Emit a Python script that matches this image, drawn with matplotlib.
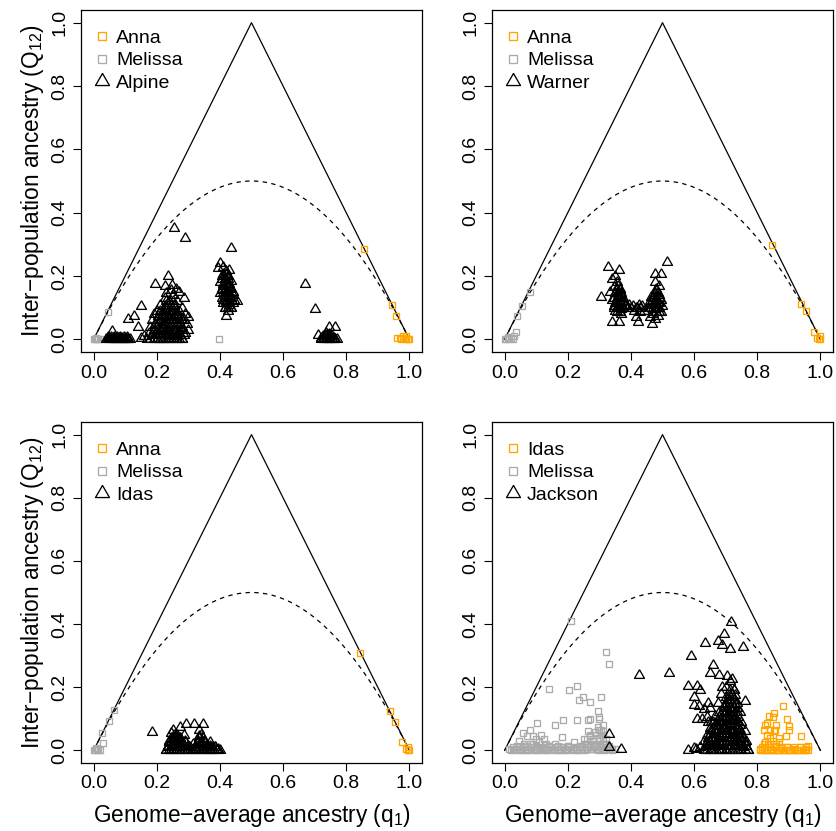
import numpy as np
import matplotlib
matplotlib.use("Agg")
import matplotlib.pyplot as plt

plt.rcParams['font.family'] = ['Liberation Sans', 'DejaVu Sans']
plt.rcParams['mathtext.default'] = 'regular'

orange = '#FFA500'
grey = '#AAAAAA'

# ---- panel 1: Anna / Melissa / Alpine ----
p1_anna_q = [0.856, 0.945, 0.959, 0.96, 0.975, 0.98, 0.985, 0.99, 0.995, 1.0, 0.99, 0.97]
p1_anna_Q = [0.284, 0.107, 0.075, 0.005, 0.0, 0.01, 0.005, 0.0, 0.002, 0.0, 0.012, 0.005]
p1_mel_q = [0.0, 0.005, 0.01, 0.015, 0.02, 0.008, 0.046, 0.396]
p1_mel_Q = [0.0, 0.0, 0.002, 0.0, 0.0, 0.005, 0.086, 0.0]
p1_hyb_q = [0.045, 0.05, 0.055, 0.06, 0.065, 0.07, 0.075, 0.08, 0.085, 0.09, 0.095, 0.10, 0.105, 0.11, 0.059,
            0.15, 0.127, 0.11, 0.142, 0.194, 0.236, 0.226, 0.249, 0.254, 0.288,
            0.15, 0.16, 0.17, 0.175, 0.18, 0.185, 0.19, 0.19, 0.195, 0.2, 0.2, 0.205, 0.21, 0.21, 0.215,
            0.22, 0.22, 0.225, 0.225, 0.23, 0.23, 0.235, 0.24, 0.24, 0.245, 0.245, 0.25, 0.25, 0.255, 0.255,
            0.26, 0.26, 0.265, 0.265, 0.27, 0.27, 0.275, 0.28, 0.28, 0.285, 0.29, 0.29, 0.295, 0.30, 0.30,
            0.285, 0.27, 0.245, 0.23, 0.26, 0.21, 0.235, 0.265, 0.28, 0.25,
            0.436, 0.40, 0.395, 0.41, 0.42, 0.43, 0.405, 0.415, 0.425, 0.435, 0.40, 0.41, 0.42, 0.43, 0.44,
            0.405, 0.415, 0.425, 0.435, 0.445, 0.455, 0.42, 0.43, 0.41, 0.415, 0.425, 0.435, 0.42, 0.44, 0.40,
            0.669, 0.702, 0.744, 0.766, 0.71, 0.72, 0.725, 0.73, 0.735, 0.74, 0.745, 0.75, 0.755, 0.76, 0.765,
            0.735, 0.745]
p1_hyb_Q = [0.0, 0.003, 0.0, 0.005, 0.0, 0.002, 0.0, 0.004, 0.0, 0.003, 0.0, 0.002, 0.0, 0.0, 0.025,
            0.105, 0.075, 0.065, 0.04, 0.174, 0.20, 0.17, 0.172, 0.353, 0.32,
            0.005, 0.01, 0.0, 0.02, 0.04, 0.06, 0.08, 0.03, 0.05, 0.0, 0.09, 0.02, 0.06, 0.11, 0.04,
            0.08, 0.0, 0.13, 0.05, 0.10, 0.02, 0.07, 0.12, 0.04, 0.09, 0.0, 0.06, 0.14, 0.11, 0.03,
            0.08, 0.01, 0.12, 0.05, 0.09, 0.02, 0.07, 0.10, 0.04, 0.06, 0.08, 0.02, 0.05, 0.07, 0.03,
            0.13, 0.15, 0.155, 0.145, 0.16, 0.0, 0.0, 0.0, 0.0, 0.02,
            0.287, 0.24, 0.225, 0.23, 0.215, 0.22, 0.20, 0.19, 0.20, 0.185, 0.18, 0.17, 0.16, 0.165, 0.15,
            0.155, 0.14, 0.135, 0.13, 0.125, 0.12, 0.12, 0.11, 0.125, 0.10, 0.09, 0.10, 0.075, 0.14, 0.145,
            0.176, 0.095, 0.04, 0.04, 0.013, 0.005, 0.0, 0.01, 0.0, 0.005, 0.0, 0.01, 0.0, 0.005, 0.0,
            0.02, 0.018]
# dense cores of the Alpine clusters
p1_core_q = [0.04, 0.05, 0.06, 0.07, 0.08, 0.09, 0.10, 0.11, 0.115,
             0.045, 0.055, 0.065, 0.075, 0.085, 0.095, 0.105,
             0.18, 0.19, 0.20, 0.21, 0.22, 0.23, 0.24, 0.25, 0.26, 0.27, 0.28,
             0.185, 0.195, 0.205, 0.215, 0.225, 0.235, 0.245, 0.255, 0.265, 0.275, 0.285,
             0.19, 0.20, 0.21, 0.22, 0.23, 0.24, 0.25, 0.26, 0.27, 0.28,
             0.195, 0.205, 0.215, 0.225, 0.235, 0.245, 0.255, 0.265, 0.275,
             0.20, 0.21, 0.22, 0.23, 0.24, 0.25, 0.26, 0.27, 0.28,
             0.205, 0.215, 0.225, 0.235, 0.245, 0.255, 0.265,
             0.21, 0.22, 0.23, 0.24, 0.25, 0.26,
             0.225, 0.235, 0.245, 0.255,
             0.23, 0.24, 0.25,
             0.415, 0.425, 0.435, 0.41, 0.42, 0.43, 0.44, 0.405, 0.415, 0.425, 0.435,
             0.41, 0.42, 0.43, 0.405, 0.415, 0.425, 0.435, 0.41, 0.42, 0.43,
             0.405, 0.415, 0.425, 0.41, 0.42,
             0.72, 0.73, 0.74, 0.75, 0.76, 0.77, 0.725, 0.735, 0.745, 0.755]
p1_core_Q = [0.0, 0.0, 0.0, 0.0, 0.0, 0.0, 0.0, 0.0, 0.0,
             0.008, 0.008, 0.008, 0.008, 0.008, 0.008, 0.008,
             0.0, 0.0, 0.0, 0.0, 0.0, 0.0, 0.0, 0.0, 0.0, 0.0, 0.0,
             0.015, 0.015, 0.015, 0.015, 0.015, 0.015, 0.015, 0.015, 0.015, 0.015, 0.015,
             0.03, 0.03, 0.03, 0.03, 0.03, 0.03, 0.03, 0.03, 0.03, 0.03,
             0.045, 0.045, 0.045, 0.045, 0.045, 0.045, 0.045, 0.045, 0.045,
             0.06, 0.06, 0.06, 0.06, 0.06, 0.06, 0.06, 0.06, 0.06,
             0.075, 0.075, 0.075, 0.075, 0.075, 0.075, 0.075,
             0.09, 0.09, 0.09, 0.09, 0.09, 0.09,
             0.105, 0.105, 0.105, 0.105,
             0.12, 0.12, 0.12,
             0.10, 0.10, 0.10, 0.115, 0.115, 0.115, 0.115, 0.13, 0.13, 0.13, 0.13,
             0.145, 0.145, 0.145, 0.16, 0.16, 0.16, 0.16, 0.175, 0.175, 0.175,
             0.19, 0.19, 0.19, 0.205, 0.205,
             0.0, 0.0, 0.0, 0.0, 0.0, 0.0, 0.01, 0.01, 0.01, 0.01]

# ---- panel 2: Anna / Melissa / Warner ----
p2_anna_q = [0.848, 0.94, 0.955, 0.979, 0.99, 0.995, 1.0, 0.998]
p2_anna_Q = [0.298, 0.113, 0.088, 0.022, 0.005, 0.0, 0.0, 0.01]
p2_mel_q = [0.079, 0.056, 0.039, 0.035, 0.03, 0.0, 0.005, 0.01, 0.015, 0.02, 0.025, 0.012]
p2_mel_Q = [0.15, 0.106, 0.073, 0.023, 0.012, 0.0, 0.0, 0.003, 0.0, 0.005, 0.0, 0.008]
p2_hyb_q = [0.328, 0.361, 0.513, 0.304, 0.475, 0.494, 0.475, 0.49, 0.474, 0.339, 0.361, 0.422, 0.467, 0.37,
            0.34, 0.35, 0.355, 0.345, 0.36, 0.365, 0.335, 0.35, 0.36, 0.37, 0.34, 0.355, 0.365, 0.375,
            0.345, 0.36, 0.37, 0.38, 0.35, 0.365,
            0.385, 0.395, 0.405, 0.415, 0.425, 0.435, 0.41, 0.43, 0.415, 0.44,
            0.455, 0.46, 0.465, 0.47, 0.475, 0.48, 0.485, 0.49, 0.495, 0.485, 0.47, 0.48, 0.49, 0.50,
            0.46, 0.475, 0.495]
p2_hyb_Q = [0.23, 0.219, 0.244, 0.134, 0.205, 0.205, 0.18, 0.17, 0.14, 0.055, 0.055, 0.055, 0.05, 0.08,
            0.19, 0.20, 0.18, 0.165, 0.17, 0.155, 0.15, 0.145, 0.135, 0.14, 0.125, 0.12, 0.115, 0.12,
            0.105, 0.10, 0.095, 0.105, 0.09, 0.085,
            0.11, 0.11, 0.105, 0.10, 0.11, 0.105, 0.09, 0.085, 0.07, 0.09,
            0.10, 0.12, 0.135, 0.11, 0.095, 0.125, 0.10, 0.115, 0.085, 0.075, 0.08, 0.155, 0.14, 0.105,
            0.07, 0.065, 0.125]
p2_core_q = [0.345, 0.355, 0.365, 0.375, 0.46, 0.47, 0.48, 0.49,
             0.35, 0.36, 0.37, 0.465, 0.475, 0.485,
             0.345, 0.355, 0.365, 0.375, 0.47, 0.48, 0.49,
             0.35, 0.36, 0.37, 0.475, 0.485,
             0.355, 0.365, 0.48,
             0.355, 0.365, 0.47, 0.48, 0.49,
             0.39, 0.40, 0.42, 0.43]
p2_core_Q = [0.10, 0.10, 0.10, 0.10, 0.10, 0.10, 0.10, 0.10,
             0.115, 0.115, 0.115, 0.115, 0.115, 0.115,
             0.13, 0.13, 0.13, 0.13, 0.13, 0.13, 0.13,
             0.145, 0.145, 0.145, 0.145, 0.145,
             0.16, 0.16, 0.16,
             0.085, 0.085, 0.085, 0.085, 0.085,
             0.10, 0.10, 0.10, 0.10]

# ---- panel 3: Anna / Melissa / Idas ----
p3_anna_q = [0.843, 0.938, 0.955, 0.978, 0.99, 0.995, 1.0, 0.997]
p3_anna_Q = [0.308, 0.125, 0.09, 0.025, 0.005, 0.0, 0.0, 0.01]
p3_mel_q = [0.064, 0.048, 0.028, 0.03, 0.0, 0.005, 0.01, 0.015, 0.02, 0.008]
p3_mel_Q = [0.129, 0.093, 0.055, 0.023, 0.0, 0.0, 0.004, 0.0, 0.002, 0.008]
p3_hyb_q = [0.185, 0.294, 0.319, 0.345, 0.275, 0.25, 0.287, 0.333,
            0.23, 0.235, 0.24, 0.245, 0.25, 0.255, 0.26, 0.26, 0.265, 0.27, 0.275, 0.28, 0.28, 0.29,
            0.295, 0.30, 0.31, 0.315, 0.32, 0.325, 0.33, 0.335, 0.34, 0.345, 0.35, 0.355, 0.36, 0.37,
            0.375, 0.385, 0.39, 0.395, 0.365, 0.245]
p3_hyb_Q = [0.058, 0.085, 0.085, 0.083, 0.075, 0.065, 0.05, 0.065,
            0.0, 0.015, 0.03, 0.0, 0.04, 0.02, 0.0, 0.05, 0.03, 0.01, 0.04, 0.0, 0.02, 0.03,
            0.0, 0.015, 0.0, 0.02, 0.005, 0.0, 0.03, 0.045, 0.02, 0.005, 0.03, 0.0, 0.01, 0.015,
            0.0, 0.01, 0.0, 0.003, 0.0, 0.055]
p3_core_q = [0.23, 0.24, 0.25, 0.26, 0.27, 0.28, 0.29, 0.30, 0.31, 0.32, 0.33, 0.34, 0.35, 0.36, 0.37,
             0.38, 0.39, 0.40,
             0.235, 0.245, 0.255, 0.265, 0.275, 0.285, 0.295, 0.305, 0.325, 0.335, 0.345, 0.355, 0.365,
             0.375, 0.385,
             0.24, 0.25, 0.26, 0.27, 0.28, 0.29, 0.33, 0.34, 0.35, 0.37,
             0.245, 0.255, 0.265, 0.275, 0.335, 0.345,
             0.255, 0.265, 0.34]
p3_core_Q = [0.0, 0.0, 0.0, 0.0, 0.0, 0.0, 0.0, 0.0, 0.0, 0.0, 0.0, 0.0, 0.0, 0.0, 0.0,
             0.0, 0.0, 0.0,
             0.012, 0.012, 0.012, 0.012, 0.012, 0.012, 0.012, 0.012, 0.012, 0.012, 0.012, 0.012, 0.012,
             0.012, 0.012,
             0.025, 0.025, 0.025, 0.025, 0.025, 0.025, 0.025, 0.025, 0.025, 0.025,
             0.038, 0.038, 0.038, 0.038, 0.038, 0.038,
             0.05, 0.05, 0.05]

# ---- panel 4: Idas / Melissa / Jackson ----
p4_idas_q = [0.882, 0.853, 0.837, 0.851, 0.893, 0.83, 0.825, 0.86, 0.90, 0.82, 0.84, 0.857, 0.83, 0.853,
             0.89, 0.94, 0.84, 0.87, 0.90,
             0.81, 0.815, 0.82, 0.83, 0.835, 0.845, 0.85, 0.86, 0.865, 0.875, 0.885, 0.895, 0.905, 0.915,
             0.925, 0.935, 0.945, 0.955, 0.96, 0.87, 0.85, 0.825,
             0.81, 0.82, 0.83, 0.84, 0.85, 0.86, 0.87, 0.88, 0.89, 0.90, 0.91, 0.92, 0.93, 0.94, 0.95,
             0.96, 0.815, 0.835, 0.855, 0.875, 0.895, 0.915, 0.935, 0.955, 0.82, 0.84, 0.86]
p4_idas_Q = [0.142, 0.117, 0.108, 0.105, 0.10, 0.088, 0.08, 0.08, 0.076, 0.065, 0.065, 0.065, 0.05, 0.06,
             0.045, 0.045, 0.04, 0.04, 0.065,
             0.005, 0.0, 0.01, 0.0, 0.02, 0.005, 0.0, 0.015, 0.0, 0.008, 0.0, 0.012, 0.0, 0.005,
             0.0, 0.01, 0.0, 0.005, 0.015, 0.025, 0.03, 0.025,
             0.0, 0.0, 0.0, 0.0, 0.0, 0.0, 0.0, 0.0, 0.0, 0.0, 0.0, 0.0, 0.0, 0.0, 0.0,
             0.0, 0.01, 0.01, 0.01, 0.01, 0.01, 0.01, 0.01, 0.01, 0.02, 0.02, 0.02]
p4_mel_q = [0.21, 0.322, 0.33, 0.141, 0.203, 0.23, 0.248, 0.235, 0.27, 0.305, 0.296, 0.298, 0.104, 0.16,
            0.185, 0.23, 0.263, 0.27, 0.30, 0.08, 0.057, 0.115, 0.183, 0.09, 0.07, 0.263, 0.285, 0.305,
            0.02, 0.035, 0.05, 0.06, 0.07, 0.08, 0.09, 0.10, 0.11, 0.12, 0.13, 0.14, 0.15, 0.16, 0.17,
            0.18, 0.19, 0.20, 0.21, 0.22, 0.23, 0.24, 0.25, 0.255, 0.26, 0.27, 0.275, 0.28, 0.285, 0.29,
            0.295, 0.30, 0.305, 0.31, 0.315, 0.32, 0.33, 0.34, 0.35, 0.045, 0.10, 0.125, 0.295, 0.31,
            0.025, 0.045, 0.065, 0.085, 0.105, 0.125, 0.145, 0.165, 0.185, 0.205, 0.225, 0.245, 0.265,
            0.285, 0.305, 0.325, 0.03, 0.055, 0.075, 0.095, 0.115, 0.135, 0.155, 0.175, 0.195, 0.215,
            0.235, 0.25, 0.26, 0.27, 0.28, 0.29, 0.30, 0.31, 0.32, 0.06, 0.09, 0.13,
            0.26, 0.28, 0.30, 0.32, 0.27, 0.29, 0.31, 0.30, 0.31]
p4_mel_Q = [0.41, 0.31, 0.272, 0.195, 0.19, 0.205, 0.17, 0.16, 0.152, 0.17, 0.124, 0.107, 0.086, 0.08,
            0.095, 0.095, 0.095, 0.10, 0.10, 0.065, 0.055, 0.05, 0.043, 0.047, 0.047, 0.06, 0.058, 0.065,
            0.0, 0.005, 0.0, 0.015, 0.0, 0.02, 0.005, 0.0, 0.025, 0.008, 0.0, 0.015, 0.003, 0.02, 0.0,
            0.01, 0.0, 0.015, 0.005, 0.025, 0.0, 0.01, 0.035, 0.0, 0.02, 0.045, 0.005, 0.03, 0.015, 0.05,
            0.0, 0.035, 0.01, 0.04, 0.0, 0.02, 0.005, 0.0, 0.003, 0.03, 0.035, 0.035, 0.075, 0.06,
            0.01, 0.01, 0.01, 0.01, 0.01, 0.01, 0.01, 0.01, 0.01, 0.01, 0.01, 0.01, 0.01,
            0.01, 0.01, 0.01, 0.0, 0.0, 0.0, 0.0, 0.0, 0.0, 0.0, 0.0, 0.0, 0.0,
            0.0, 0.02, 0.02, 0.02, 0.02, 0.02, 0.02, 0.02, 0.02, 0.02, 0.02, 0.02,
            0.035, 0.035, 0.035, 0.035, 0.05, 0.05, 0.05, 0.065, 0.08]
# thick grey band along the bottom of panel 4
p4_melbase_q = [0.015, 0.025, 0.04, 0.05, 0.065, 0.075, 0.085, 0.1, 0.11, 0.12, 0.135, 0.145, 0.155,
                0.17, 0.18, 0.19, 0.2, 0.215, 0.225, 0.235, 0.245, 0.26, 0.27, 0.28, 0.29, 0.3, 0.31,
                0.32, 0.33, 0.34, 0.04, 0.07, 0.1, 0.14, 0.17, 0.2, 0.24, 0.27, 0.3, 0.33]
p4_melbase_Q = [0.005, 0.005, 0.005, 0.005, 0.005, 0.005, 0.005, 0.005, 0.005, 0.005, 0.005, 0.005,
                0.005, 0.005, 0.005, 0.005, 0.005, 0.005, 0.005, 0.005, 0.005, 0.005, 0.005, 0.005,
                0.005, 0.005, 0.005, 0.005, 0.005, 0.005, 0.015, 0.015, 0.015, 0.015, 0.015, 0.015,
                0.015, 0.015, 0.015, 0.015]
p4_hyb_q = [0.718, 0.695, 0.675, 0.688, 0.634, 0.713, 0.755, 0.59, 0.425, 0.52, 0.66, 0.65, 0.68, 0.705,
            0.72, 0.58, 0.61, 0.62, 0.76, 0.60, 0.33, 0.33, 0.37, 0.58, 0.60, 0.605,
            0.60, 0.615, 0.63, 0.645, 0.65, 0.61, 0.625, 0.64, 0.645, 0.66,
            0.62, 0.63, 0.635, 0.64, 0.645, 0.65, 0.655, 0.66, 0.665, 0.67, 0.67, 0.675, 0.68, 0.68,
            0.685, 0.685, 0.69, 0.69, 0.695, 0.70, 0.70, 0.70, 0.705, 0.71, 0.71, 0.715, 0.72, 0.72,
            0.725, 0.725, 0.73, 0.73, 0.735, 0.74, 0.74, 0.745, 0.75, 0.75, 0.755, 0.76, 0.765, 0.77,
            0.715, 0.70, 0.69, 0.725, 0.735, 0.705, 0.665, 0.655, 0.68, 0.695, 0.71, 0.72, 0.74, 0.75, 0.66]
p4_hyb_Q = [0.405, 0.37, 0.345, 0.335, 0.34, 0.32, 0.328, 0.30, 0.238, 0.245, 0.27, 0.245, 0.24, 0.235,
            0.225, 0.205, 0.205, 0.19, 0.155, 0.17, 0.053, 0.01, 0.005, 0.0, 0.008, 0.005,
            0.145, 0.14, 0.13, 0.15, 0.135, 0.10, 0.10, 0.105, 0.09, 0.09,
            0.01, 0.03, 0.0, 0.05, 0.02, 0.07, 0.0, 0.04, 0.11, 0.02, 0.08, 0.15, 0.05, 0.12,
            0.0, 0.18, 0.09, 0.03, 0.14, 0.06, 0.20, 0.0, 0.11, 0.16, 0.03, 0.08, 0.13, 0.0,
            0.05, 0.19, 0.10, 0.02, 0.15, 0.07, 0.0, 0.12, 0.04, 0.09, 0.01, 0.06, 0.03, 0.0,
            0.22, 0.17, 0.20, 0.16, 0.12, 0.04, 0.06, 0.09, 0.0, 0.07, 0.10, 0.06, 0.09, 0.015, 0.015]
p4_core_q = [0.63, 0.64, 0.65, 0.66, 0.67, 0.68, 0.69, 0.70, 0.71, 0.72, 0.73, 0.74, 0.75, 0.76, 0.77,
             0.635, 0.645, 0.655, 0.665, 0.675, 0.685, 0.695, 0.705, 0.715, 0.725, 0.735, 0.745, 0.755, 0.765,
             0.64, 0.65, 0.66, 0.67, 0.68, 0.69, 0.70, 0.71, 0.72, 0.73, 0.74, 0.75, 0.76,
             0.645, 0.655, 0.665, 0.675, 0.685, 0.695, 0.705, 0.715, 0.725, 0.735, 0.745, 0.755,
             0.65, 0.66, 0.67, 0.68, 0.69, 0.70, 0.71, 0.72, 0.73, 0.74, 0.75,
             0.655, 0.665, 0.675, 0.685, 0.695, 0.705, 0.715, 0.725, 0.735, 0.745,
             0.665, 0.675, 0.685, 0.695, 0.705, 0.715, 0.725, 0.735, 0.745,
             0.675, 0.685, 0.695, 0.705, 0.715, 0.725, 0.735,
             0.68, 0.69, 0.70, 0.71, 0.72, 0.73, 0.74,
             0.69, 0.70, 0.71, 0.72, 0.73,
             0.695, 0.705, 0.715, 0.725, 0.735,
             0.70, 0.71, 0.72, 0.73,
             0.705, 0.715, 0.725,
             0.71, 0.72, 0.73,
             0.715, 0.725]
p4_core_Q = [0.0, 0.0, 0.0, 0.0, 0.0, 0.0, 0.0, 0.0, 0.0, 0.0, 0.0, 0.0, 0.0, 0.0, 0.0,
             0.013, 0.013, 0.013, 0.013, 0.013, 0.013, 0.013, 0.013, 0.013, 0.013, 0.013, 0.013, 0.013, 0.013,
             0.026, 0.026, 0.026, 0.026, 0.026, 0.026, 0.026, 0.026, 0.026, 0.026, 0.026, 0.026, 0.026,
             0.04, 0.04, 0.04, 0.04, 0.04, 0.04, 0.04, 0.04, 0.04, 0.04, 0.04, 0.04,
             0.053, 0.053, 0.053, 0.053, 0.053, 0.053, 0.053, 0.053, 0.053, 0.053, 0.053,
             0.066, 0.066, 0.066, 0.066, 0.066, 0.066, 0.066, 0.066, 0.066, 0.066,
             0.08, 0.08, 0.08, 0.08, 0.08, 0.08, 0.08, 0.08, 0.08,
             0.093, 0.093, 0.093, 0.093, 0.093, 0.093, 0.093,
             0.106, 0.106, 0.106, 0.106, 0.106, 0.106, 0.106,
             0.12, 0.12, 0.12, 0.12, 0.12,
             0.133, 0.133, 0.133, 0.133, 0.133,
             0.146, 0.146, 0.146, 0.146,
             0.16, 0.16, 0.16,
             0.175, 0.175, 0.175,
             0.19, 0.19]

panels = [
    ("Anna", p1_anna_q, p1_anna_Q, "Melissa", p1_mel_q, p1_mel_Q, "Alpine",
     p1_hyb_q + p1_core_q, p1_hyb_Q + p1_core_Q),
    ("Anna", p2_anna_q, p2_anna_Q, "Melissa", p2_mel_q, p2_mel_Q, "Warner",
     p2_hyb_q + p2_core_q, p2_hyb_Q + p2_core_Q),
    ("Anna", p3_anna_q, p3_anna_Q, "Melissa", p3_mel_q, p3_mel_Q, "Idas",
     p3_hyb_q + p3_core_q, p3_hyb_Q + p3_core_Q),
    ("Idas", p4_idas_q, p4_idas_Q, "Melissa", p4_mel_q + p4_melbase_q, p4_mel_Q + p4_melbase_Q, "Jackson",
     p4_hyb_q + p4_core_q, p4_hyb_Q + p4_core_Q),
]

# equilateral open triangle like R pch=2
tri = [(0, 0.577), (-0.5, -0.289), (0.5, -0.289), (0, 0.577)]

W, H = 837, 831
fig = plt.figure(figsize=(W / 100, H / 100), dpi=100)
boxes = [(81, 10, 422, 352), (492, 10, 833, 352), (81, 422, 422, 763), (492, 422, 833, 763)]
fs = 14
fs_lab = 16.3

qq = np.linspace(0, 1, 201)
for i, (box, pan) in enumerate(zip(boxes, panels)):
    x0, y0, x1, y1 = box
    ax = fig.add_axes([x0 / W, 1 - y1 / H, (x1 - x0) / W, (y1 - y0) / H])
    n1, q1, Q1, n2, q2, Q2, n3, q3, Q3 = pan

    ax.plot([0, 0.5, 1], [0, 1, 0], color='black', lw=0.9)
    ax.plot(qq, 2 * qq * (1 - qq), color='black', lw=0.9, dashes=(3.5, 3.5))

    ax.plot(q1, Q1, linestyle='none', marker='s', ms=4.5, mfc='none', mec=orange, mew=0.95, label=n1)
    ax.plot(q2, Q2, linestyle='none', marker='s', ms=4.5, mfc='none', mec=grey, mew=0.95, label=n2)
    ax.plot(q3, Q3, linestyle='none', marker=tri, ms=8.3, mfc='none', mec='black', mew=0.95, label=n3)

    ax.set_xlim(-0.04, 1.04)
    ax.set_ylim(-0.04, 1.04)
    ticks = [0.0, 0.2, 0.4, 0.6, 0.8, 1.0]
    ax.set_xticks(ticks)
    ax.set_xticklabels(["%.1f" % t for t in ticks], fontsize=fs)
    ax.set_yticks(ticks)
    ax.set_yticklabels(["%.1f" % t for t in ticks], fontsize=fs, rotation=90, va='center')
    ax.tick_params(direction='out', length=6, width=0.8, pad=3)
    for s in ax.spines.values():
        s.set_linewidth(0.9)

    ax.legend(loc='upper left', bbox_to_anchor=(0.0, 0.989), frameon=False, fontsize=fs,
              markerscale=1.4, handlelength=0.6, handletextpad=0.4, labelspacing=0.25,
              borderaxespad=0.5, borderpad=0.3)

    if i % 2 == 0:
        ax.set_ylabel("Inter\u2212population ancestry (Q$_{12}$)", fontsize=fs_lab, labelpad=4)
    if i >= 2:
        ax.set_xlabel("Genome\u2212average ancestry (q$_1$)", fontsize=fs_lab, labelpad=7)

fig.savefig("out.png", dpi=100)
